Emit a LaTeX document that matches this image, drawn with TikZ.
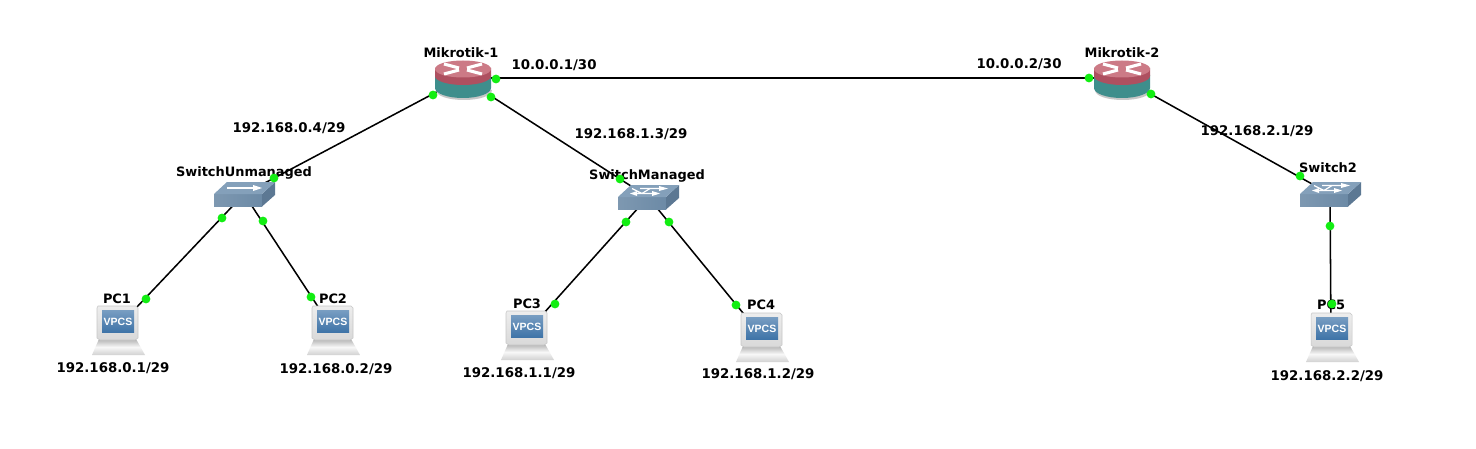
\documentclass[tikz,border=0pt]{standalone}
\usepackage{fontspec}
\setmainfont{DejaVu Sans}
\newfontfamily\vpcsfont{Liberation Sans}
\definecolor{portgreen}{HTML}{12EE12}
\definecolor{rtop}{HTML}{CC7A86}
\definecolor{rrim}{HTML}{AE5060}
\definecolor{rbody}{HTML}{3E8E8C}
\definecolor{stop}{HTML}{84A0BA}
\definecolor{sfront}{HTML}{6C8AA6}
\definecolor{sside}{HTML}{5C7893}
\definecolor{pcscreen}{HTML}{3F74A8}
\tikzset{
  hub/.style={inner sep=0pt,minimum size=0pt,outer sep=0pt},
  lbl/.style={inner sep=0pt,font=\bfseries\fontsize{10}{12}\selectfont,text=black},
  dev/.style={inner sep=0pt,font=\bfseries\fontsize{9.7}{12}\selectfont,text=black},
  wire/.style={draw=black,line width=1.15pt},
  port/.style={circle,fill=portgreen,draw=none,minimum size=6.6pt,inner sep=0pt},
  vpcs/.style={inner sep=0pt,text=white,font=\vpcsfont\bfseries\fontsize{7.9}{9}\selectfont}
}
\newcommand{\routericon}[1]{%
  \begin{scope}[shift={(#1)}]
    \fill[black!22] (-27,12) .. controls (-27,18) and (-15,22) .. (1,22) .. controls (16,22) and (29,18) .. (29,12) -- cycle;
    \fill[rbody] (-28,-3) -- (-28,10) .. controls (-28,15.5) and (-15.5,20) .. (0,20) .. controls (15.5,20) and (28,15.5) .. (28,10) -- (28,-3) -- cycle;
    \fill[rrim] (-28,-10) -- (-28,-2) .. controls (-28,3) and (-15.5,7) .. (0,7) .. controls (15.5,7) and (28,3) .. (28,-2) -- (28,-10) -- cycle;
    \fill[rtop] (-28,-9) .. controls (-28,-14) and (-15.5,-17.5) .. (0,-17.5) .. controls (15.5,-17.5) and (28,-14) .. (28,-9) .. controls (28,-4) and (15.5,-0.5) .. (0,-0.5) .. controls (-15.5,-0.5) and (-28,-4) .. (-28,-9) -- cycle;
    \draw[white,line width=2.3pt] (-19,-14) -- (-4,-10) (19,-4) -- (4,-8) (19,-14) -- (4,-10) (-19,-4) -- (-4,-8);
  \end{scope}}
\newcommand{\switchbase}[1]{%
    \shade[left color=sfront!88!white,right color=sfront] (-30,0) -- (18,0) -- (18,12.5) -- (-30,12.5) -- cycle;
    \fill[sside] (18,0) -- (31,-12) -- (31,1) -- (18,12.5) -- cycle;
    \fill[stop] (-30,0) -- (-17,-12) -- (31,-12) -- (18,0) -- cycle;}
\newcommand{\switchone}[1]{%
  \begin{scope}[shift={(#1)}]
    \switchbase{}
    \draw[white,line width=1.5pt] (-17,-6) -- (10,-6);
    \fill[white] (18,-6) -- (9,-9) -- (9,-3) -- cycle;
  \end{scope}}
\newcommand{\switchtwo}[1]{%
  \begin{scope}[shift={(#1)}]
    \switchbase{}
    \draw[white,line width=0.9pt] (-8,-8.5) -- (12,-8.5) (-14,-3.5) -- (6,-3.5) (-16,-8.5) -- (-6,-3.5);
    \draw[white,line width=0.9pt] (2,-8.5) -- (-6,-3.5);
    \fill[white] (20,-8.5) -- (11,-11) -- (11,-6) -- cycle (12,-3.5) -- (4,-6) -- (4,-1) -- cycle (-18,-3.5) -- (-11,-6) -- (-11,-1) -- cycle;
  \end{scope}}
\newcommand{\pcicon}[2]{%
  \begin{scope}[shift={(#1)}]
    \shade[top color=black!30,bottom color=black!18,middle color=black!3] (-18,11) -- (19,11) -- (28,27) -- (-25,27) -- cycle;
    \shade[top color=black!7,bottom color=black!15,draw=black!22,line width=0.4pt] (-19,-22) -- (19,-22) -- (21,-20) -- (21,10) -- (18,12) -- (-17,12) -- (-20,10) -- (-20,-20) -- cycle;
    \shade[top color=pcscreen!70!white,bottom color=pcscreen] (-15,-18) rectangle (17,4);
    \node[vpcs] (#2) at (1,-6.5) {VPCS};
  \end{scope}}
\begin{document}
\begin{tikzpicture}[x=0.75pt,y=-0.75pt]
\useasboundingbox (0,0) rectangle (1476,449);
\fill[white] (0,0) rectangle (1476,449);
% device centres
\node[hub] (m1) at (463,78) {};
\node[hub] (m2) at (1122,78) {};
\node[hub] (swu) at (244,194) {};
\node[hub] (swm) at (648,197) {};
\node[hub] (sw2) at (1330,194) {};
\node[hub] (pc1) at (117,328) {};
\node[hub] (pc2) at (332,328) {};
\node[hub] (pc3) at (526,333) {};
\node[hub] (pc4) at (761,335) {};
\node[hub] (pc5) at (1331,335) {};
% labels
\node[dev] (lm1) at (461,53) {Mikrotik-1};
\node[dev] (lm2) at (1122,53) {Mikrotik-2};
\node[dev] (lswu) at (244,173) {SwitchUnmanaged};
\node[dev] (lswm) at (647,176) {SwitchManaged};
\node[dev] (lsw2) at (1328,168) {Switch2};
\node[dev] (lpc1) at (117,299) {PC1};
\node[dev] (lpc2) at (333,299) {PC2};
\node[dev] (lpc3) at (527,304) {PC3};
\node[dev] (lpc4) at (761,305) {PC4};
\node[dev] (lpc5) at (1331,305) {PC5};
\node[lbl] (a1) at (554,65) {10.0.0.1/30};
\node[lbl] (a2) at (1019,64) {10.0.0.2/30};
\node[lbl] (a3) at (289,128) {192.168.0.4/29};
\node[lbl] (a4) at (631,134) {192.168.1.3/29};
\node[lbl] (a5) at (1257,131) {192.168.2.1/29};
\node[lbl] (a6) at (113,368) {192.168.0.1/29};
\node[lbl] (a7) at (336,369) {192.168.0.2/29};
\node[lbl] (a8) at (519,373) {192.168.1.1/29};
\node[lbl] (a9) at (758,374) {192.168.1.2/29};
\node[lbl] (a10) at (1327,376) {192.168.2.2/29};
% connectors
\draw[wire] (m1) -- (m2);
\draw[wire] (m1) -- (swu);
\draw[wire] (m1) -- (swm);
\draw[wire] (m2) -- (sw2);
\draw[wire] (swu) -- (pc1);
\draw[wire] (swu) -- (pc2);
\draw[wire] (swm) -- (pc3);
\draw[wire] (swm) -- (pc4);
\draw[wire] (sw2) -- (pc5);
% icons
\routericon{m1}
\routericon{m2}
\switchone{swu}
\switchtwo{swm}
\switchtwo{sw2}
\pcicon{pc1}{v1}
\pcicon{pc2}{v2}
\pcicon{pc3}{v3}
\pcicon{pc4}{v4}
\pcicon{pc5}{v5}
% ports
\node[port] (p1) at (433,95) {};
\node[port] (p2) at (496,79) {};
\node[port] (p3) at (491,97) {};
\node[port] (p4) at (1089,78) {};
\node[port] (p5) at (1151,94) {};
\node[port] (p6) at (274,178) {};
\node[port] (p7) at (222,218) {};
\node[port] (p8) at (263,221) {};
\node[port] (p9) at (620,179) {};
\node[port] (p10) at (626,222) {};
\node[port] (p11) at (669,222) {};
\node[port] (p12) at (1300,176) {};
\node[port] (p13) at (1330,226) {};
\node[port] (p14) at (146,299) {};
\node[port] (p15) at (311,297) {};
\node[port] (p16) at (555,304) {};
\node[port] (p17) at (736,305) {};
\node[port] (p18) at (1332,304) {};
\end{tikzpicture}
\end{document}
